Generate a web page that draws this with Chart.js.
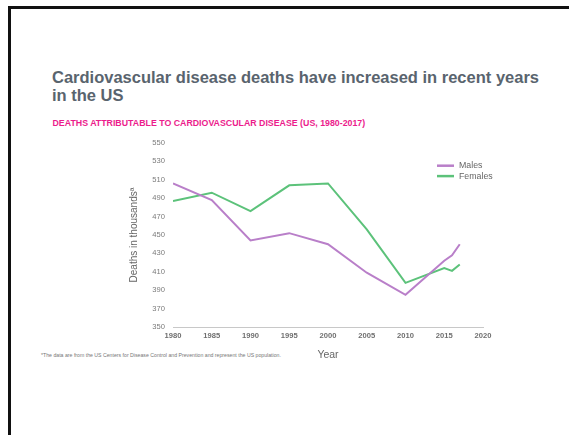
<!DOCTYPE html>
<html>
<head>
<meta charset="utf-8">
<script src="https://cdn.jsdelivr.net/npm/chart.js@4/dist/chart.umd.min.js"></script>
<style>
  html, body { margin: 0; padding: 0; background: #fff; }
  body { width: 569px; height: 435px; position: relative; overflow: hidden; font-family: "Liberation Sans", Arial, sans-serif; }
  #frame { position: absolute; left: 8px; top: 6px; width: 600px; height: 500px; border-left: 3px solid #111; border-top: 3px solid #111; }
  #title { position: absolute; left: 52px; top: 67.5px; font-size: 16.5px; font-weight: bold; line-height: 18.4px; color: #59646e; white-space: nowrap; }
  #subtitle { position: absolute; left: 52.5px; top: 118.5px; font-size: 8.8px; font-weight: bold; line-height: 1; color: #ec1c8c; white-space: nowrap; }
  #note { position: absolute; left: 41px; top: 352.5px; font-size: 5.2px; line-height: 1; color: #777; white-space: nowrap; }
  #wrap { position: absolute; left: 0; top: 0; width: 569px; height: 435px; }
</style>
</head>
<body>
<div id="frame"></div>
<div id="title">Cardiovascular disease deaths have increased in recent years<br>in the US</div>
<div id="subtitle">DEATHS ATTRIBUTABLE TO CARDIOVASCULAR DISEASE (US, 1980-2017)</div>
<div id="note">*The data are from the US Centers for Disease Control and Prevention and represent the US population.</div>
<div id="wrap"><canvas id="chart"></canvas></div>
<script>
const years = [1980, 1985, 1990, 1995, 2000, 2005, 2010, 2015, 2016, 2017];
const males = [506, 488, 444, 452, 440, 409, 385, 422, 428, 440];
const females = [487, 496, 476, 504, 506, 456, 398, 414, 411, 418];
const seriesNames = ['Males', 'Females'];

const maleColor = '#b97fc9';
const femaleColor = '#5cc27a';

// legend drawn inside the plot, top right
const insideLegend = {
    id: 'insideLegend',
    afterDraw(chart) {
        const ctx = chart.ctx;
        const area = chart.chartArea;
        ctx.save();
        ctx.font = '8.8px "Liberation Sans", Arial, sans-serif';
        ctx.textBaseline = 'middle';
        ctx.fillStyle = '#666';
        chart.data.datasets.forEach((ds, i) => {
            const y = area.top + 22.7 + i * 10.4;
            const x = area.right - 46;
            ctx.strokeStyle = ds.borderColor;
            ctx.lineWidth = 2.5;
            ctx.beginPath();
            ctx.moveTo(x, y);
            ctx.lineTo(x + 17, y);
            ctx.stroke();
            ctx.fillText(ds.label, x + 22, y);
        });
        ctx.restore();
    }
};

const ctx = document.getElementById('chart').getContext('2d');

const chart = new Chart(ctx, {
    type: 'line',
    data: {
        datasets: [
            {
                label: seriesNames[0],
                data: years.map((y, i) => ({ x: y, y: males[i] })),
                borderColor: maleColor,
                backgroundColor: maleColor,
                borderWidth: 2,
                pointRadius: 0,
                tension: 0
            },
            {
                label: seriesNames[1],
                data: years.map((y, i) => ({ x: y, y: females[i] })),
                borderColor: femaleColor,
                backgroundColor: femaleColor,
                borderWidth: 2,
                pointRadius: 0,
                tension: 0
            }
        ]
    },
    options: {
        responsive: true,
        maintainAspectRatio: false,
        animation: false,
        layout: {
            padding: { left: 124, top: 143, right: 86, bottom: 70 }
        },
        plugins: {
            legend: { display: false },
            tooltip: { enabled: false }
        },
        scales: {
            x: {
                type: 'linear',
                min: 1980,
                max: 2020,
                grid: { display: false, drawTicks: false },
                border: { display: true, color: '#c8c8c8', width: 1 },
                ticks: {
                    stepSize: 5,
                    padding: 4,
                    maxRotation: 0,
                    color: '#6f6f6f',
                    font: { size: 7.6, weight: 'bold', family: '"Liberation Sans", Arial, sans-serif' },
                    callback: v => String(v)
                },
                title: {
                    display: true,
                    text: 'Year',
                    color: '#666',
                    padding: { top: 4, bottom: 4 },
                    font: { size: 10.5, family: '"Liberation Sans", Arial, sans-serif' }
                },
                afterFit(scale) {
                    scale.height = 38;
                    scale.paddingLeft = 0;
                    scale.paddingRight = 0;
                }
            },
            y: {
                min: 350,
                max: 550,
                grid: { display: false, drawTicks: false },
                border: { display: false },
                ticks: {
                    stepSize: 20,
                    padding: 8,
                    color: '#7a7a7a',
                    font: { size: 7.6, family: '"Liberation Sans", Arial, sans-serif' }
                },
                title: {
                    display: true,
                    text: 'Deaths in thousandsª',
                    color: '#666',
                    padding: { top: 4, bottom: 4 },
                    font: { size: 10, family: '"Liberation Sans", Arial, sans-serif' }
                },
                afterFit(scale) {
                    scale.width = 49;
                    scale.paddingTop = 0;
                    scale.paddingBottom = 0;
                }
            }
        }
    },
    plugins: [insideLegend]
});
</script>
</body>
</html>
